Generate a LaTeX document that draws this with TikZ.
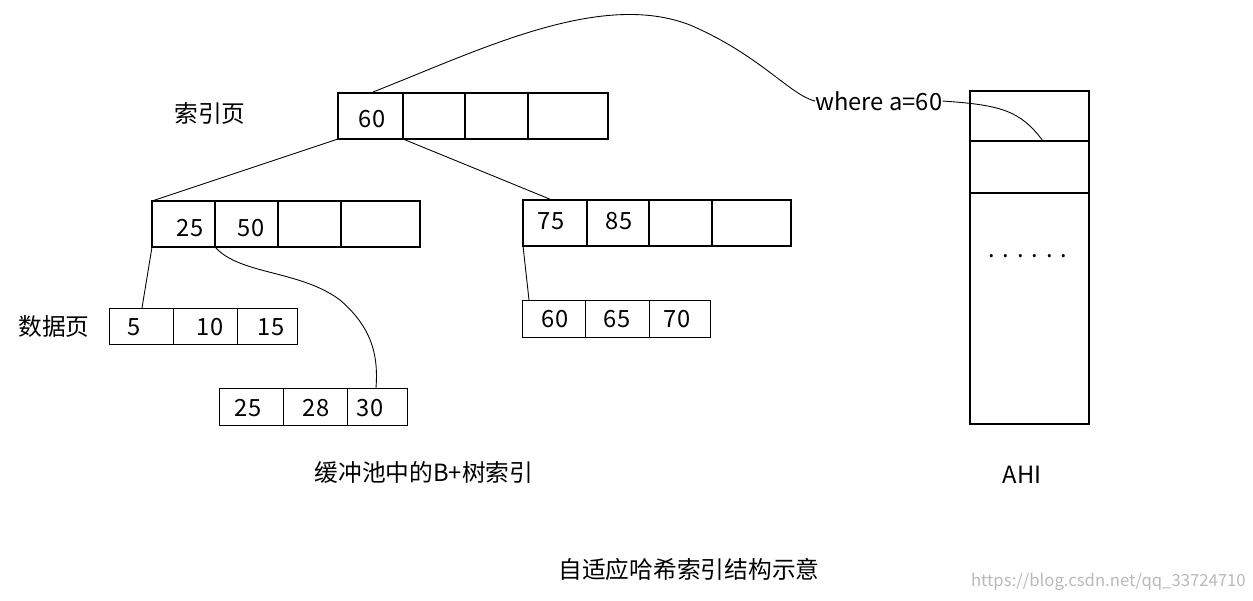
\documentclass[tikz,border=0pt]{standalone}
\usepackage{fontspec}
\setmainfont{Noto Sans CJK SC}
\begin{document}
\begin{tikzpicture}[x=0.02cm,y=-0.02cm,
  thick box/.style={draw,line width=1.4pt},
  thin box/.style={draw,line width=0.5pt},
  lbl/.style={font=\fontsize{13.5}{16}\selectfont,inner sep=0pt},
  conn/.style={draw,line width=0.5pt}]
\useasboundingbox (0,0) rectangle (1253,600);
% root
\foreach \a/\b in {338/403,403/465,465/528,528/608}{\draw[thick box] (\a,93) rectangle (\b,139);}
\coordinate (rbl) at (338,139); \coordinate (rb2) at (403,139); \coordinate (rtop) at (373,92);
\node[lbl] (r60) at (372,119) {60};
\node[lbl] (idx) at (210,113) {索引页};
% level 2 left
\foreach \a/\b in {152/215,215/278,278/341,341/420}{\draw[thick box] (\a,201) rectangle (\b,247);}
\node[lbl] (l25) at (190,228) {25};
\node[lbl] (l50) at (251,228) {50};
\coordinate (ltl) at (152,201); \coordinate (lbl1) at (152,247); \coordinate (lb2) at (215,247);
% level 2 right
\foreach \a/\b in {523/587,587/649,649/712,712/791}{\draw[thick box] (\a,200) rectangle (\b,246);}
\node[lbl] (r75) at (551,221) {75};
\node[lbl] (r85) at (619,221) {85};
\coordinate (rtm) at (552,200); \coordinate (rbl1) at (523,246);
% leaves
\foreach \a/\b in {109/173,173/237,237/297}{\draw[thin box] (\a,308) rectangle (\b,344);}
\node[lbl] at (134,327) {5}; \node[lbl] at (210,327) {10}; \node[lbl] at (271,327) {15};
\coordinate (f1) at (142,308);
\foreach \a/\b in {219/283,283/347,347/407}{\draw[thin box] (\a,388) rectangle (\b,425);}
\node[lbl] at (248,408) {25}; \node[lbl] at (316,408) {28}; \node[lbl] at (370,408) {30};
\coordinate (f2) at (376,388);
\foreach \a/\b in {522/585,585/649,649/710}{\draw[thin box] (\a,300) rectangle (\b,337);}
\node[lbl] at (555,319) {60}; \node[lbl] at (617,319) {65}; \node[lbl] at (677,319) {70};
\coordinate (f3) at (529,300);
\node[lbl] (data) at (54,326) {数据页};
% connectors
\draw[conn] (rbl) -- (ltl);
\draw[conn] (rb2) -- (rtm);
\draw[conn] (lbl1) -- (f1);
\draw[conn] (rbl1) -- (f3);
\draw[conn] (lb2) .. controls (240,275) and (300,270) .. (340,300) .. controls (375,330) and (378,360) .. (f2);
% AHI
\draw[line width=1.4pt] (970,91) rectangle (1089,424);
\draw[line width=1.4pt] (970,141) -- (1089,141);
\draw[line width=1.4pt] (970,193) -- (1089,193);
\coordinate (ahi2) at (1043,141);
\node[lbl] (dots) at (1028,256) {.\,\,.\,\,.\,\,.\,\,.\,\,.};
\node[lbl] (ahi) at (1022,475) {AHI};
\node[lbl,anchor=west] (where) at (815,101) {where a=60};
\draw[conn] (rtop) .. controls (480,50) and (600,-10) .. (690,25) .. controls (760,55) and (790,95) .. (where.west);
\draw[conn] (where.east) .. controls (1000,105) and (1020,110) .. (ahi2);
\node[lbl] (cap1) at (424,472) {缓冲池中的B+树索引};
\node[lbl] (cap2) at (689,569) {自适应哈希索引结构示意};
\node[font=\fontsize{9.5}{12}\selectfont,text=gray!55,inner sep=0pt,anchor=east] (wm) at (1246,582) {https://blog.csdn.net/qq\_33724710};
\end{tikzpicture}
\end{document}
